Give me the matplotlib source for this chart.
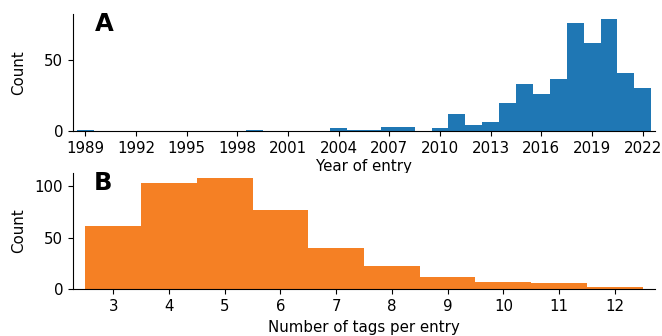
import matplotlib
matplotlib.use("Agg")
import matplotlib.pyplot as plt

# year of entry histogram (counts per year)
years = list(range(1989, 2023))
year_counts = [1, 0, 0, 0, 0, 0, 0, 0, 0, 0,
               1, 0, 0, 0, 0, 2, 1, 1, 3, 3,
               0, 2, 12, 4, 6, 20, 33, 26, 37, 76,
               62, 79, 41, 30]
year_ticks = list(range(1989, 2023, 3))

# number of tags per entry histogram
n_tags = [3, 4, 5, 6, 7, 8, 9, 10, 11, 12]
tag_counts = [62, 103, 108, 77, 40, 23, 12, 7, 6, 2]

plt.rcParams["font.family"] = "DejaVu Sans"
plt.rcParams["font.size"] = 10.8

fig = plt.figure(figsize=(6.62, 3.36), dpi=100)
ax1 = fig.add_axes([0.1103, 0.6101, 0.8791, 0.3482])
ax2 = fig.add_axes([0.1103, 0.1390, 0.8791, 0.3470])

ax1.bar(years, year_counts, width=1.0, color="#1f77b4", linewidth=0)
ax1.set_xticks(year_ticks)
ax1.set_xlim(1988.28, 2022.72)
ax1.set_ylim(0, 82.5)
ax1.set_yticks([0, 50])
ax1.set_xlabel("Year of entry", labelpad=2)
ax1.set_ylabel("Count")
ax1.text(0.037, 1.013, "A", transform=ax1.transAxes, fontsize=17.5,
         fontweight="bold", va="top", ha="left")

ax2.bar(n_tags, tag_counts, width=1.0, color="#f58024", linewidth=0)
ax2.set_xticks(n_tags)
ax2.set_xlim(2.28, 12.72)
ax2.set_ylim(0, 113.4)
ax2.set_yticks([0, 50, 100])
ax2.set_xlabel("Number of tags per entry", labelpad=4)
ax2.set_ylabel("Count")
ax2.text(0.035, 1.017, "B", transform=ax2.transAxes, fontsize=17.5,
         fontweight="bold", va="top", ha="left")

for ax in (ax1, ax2):
    ax.spines["top"].set_visible(False)
    ax.spines["right"].set_visible(False)
    ax.yaxis.set_label_coords(-0.080, 0.5)

fig.savefig("out.png", dpi=100)
